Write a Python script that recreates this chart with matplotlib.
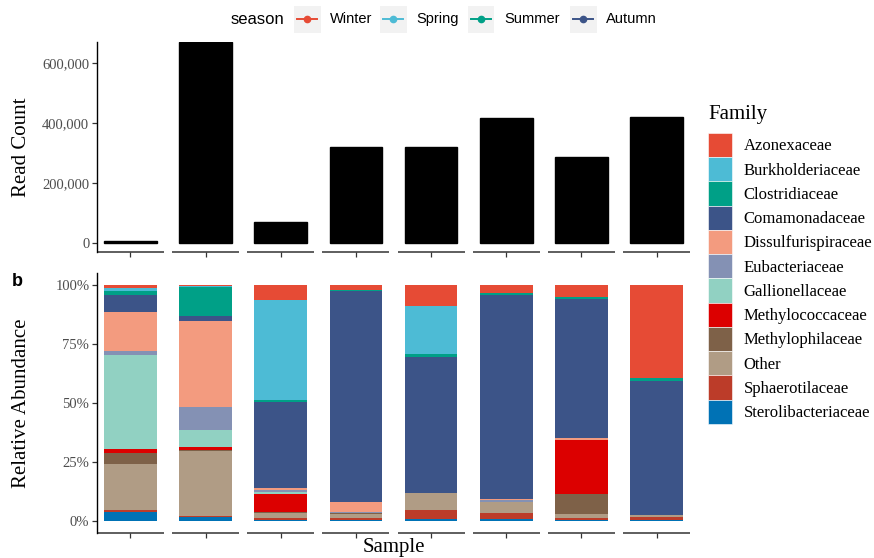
import numpy as np
import matplotlib
matplotlib.use("Agg")
import matplotlib.pyplot as plt
import matplotlib.transforms as mtransforms
from matplotlib.patches import Patch, Rectangle
from matplotlib.lines import Line2D
from matplotlib.ticker import FuncFormatter

plt.rcParams['font.family'] = ['Liberation Serif', 'DejaVu Serif']

# ---- data ----
samples = ["S1", "S2", "S3", "S4", "S5", "S6", "S7", "S8"]
read_count = [8000, 671000, 72000, 321000, 322000, 417000, 287000, 420000]

# stacking order, bottom to top
families = ["Sterolibacteriaceae", "Sphaerotilaceae", "Other", "Methylophilaceae",
            "Methylococcaceae", "Gallionellaceae", "Eubacteriaceae",
            "Dissulfurispiraceae", "Comamonadaceae", "Clostridiaceae",
            "Burkholderiaceae", "Azonexaceae"]
sterolibacteriaceae = [4.0, 1.7, 0.3, 0.6, 0.8, 0.8, 0.7, 0.6]
sphaerotilaceae = [0.7, 0.6, 1.0, 0.6, 3.9, 2.7, 0.7, 1.0]
other = [19.7, 27.5, 2.3, 1.9, 7.4, 4.5, 1.8, 1.2]
methylophilaceae = [4.3, 0.3, 0.1, 0.3, 0.0, 0.0, 8.1, 0.0]
methylococcaceae = [1.7, 1.1, 7.8, 0.1, 0.0, 0.0, 23.0, 0.0]
gallionellaceae = [39.9, 7.4, 1.0, 0.1, 0.0, 0.0, 0.0, 0.0]
eubacteriaceae = [1.5, 9.8, 0.7, 0.1, 0.0, 0.9, 0.0, 0.0]
dissulfurispiraceae = [16.5, 36.1, 0.7, 4.6, 0.0, 0.3, 0.7, 0.0]
comamonadaceae = [7.2, 2.1, 36.6, 89.0, 57.5, 86.6, 59.1, 56.7]
clostridiaceae = [2.0, 12.4, 0.8, 0.6, 1.0, 0.7, 0.8, 1.0]
burkholderiaceae = [1.2, 0.4, 42.4, 0.1, 20.4, 0.0, 0.0, 0.0]
azonexaceae = [1.3, 0.6, 6.3, 2.0, 9.0, 3.5, 5.1, 39.5]
abund = [sterolibacteriaceae, sphaerotilaceae, other, methylophilaceae,
         methylococcaceae, gallionellaceae, eubacteriaceae, dissulfurispiraceae,
         comamonadaceae, clostridiaceae, burkholderiaceae, azonexaceae]

fam_colors = ["#0072B5", "#BC3C29", "#B09C85", "#7E6148", "#DC0000", "#91D1C2",
              "#8491B4", "#F39B7F", "#3C5488", "#00A087", "#4DBBD5", "#E64B35"]

seasons = ["Winter", "Spring", "Summer", "Autumn"]
season_colors = ["#E64B35", "#4DBBD5", "#00A087", "#3C5488"]

x = np.arange(len(samples))
W, H = 874, 558
fig = plt.figure(figsize=(W / 100, H / 100), dpi=100)

def px_axes(l, t, r, b):
    return fig.add_axes([l / W, 1 - b / H, (r - l) / W, (b - t) / H])

def style_axis(ax):
    ax.set_xlim(-0.445, 7.445)
    ax.spines[['top', 'right', 'bottom']].set_visible(False)
    ax.spines['left'].set_linewidth(1.0)
    ax.set_xticks(x)
    ax.set_xticklabels([])
    ax.tick_params(axis='x', length=3.5, width=0.9, color='#333333')
    ax.tick_params(axis='y', length=3.5, width=0.9, color='#333333',
                   labelsize=10.5, labelcolor='#4D4D4D', pad=2)
    # per-sample axis line segments
    trans = mtransforms.blended_transform_factory(ax.transData, ax.transAxes)
    for xi in x:
        ax.plot([xi - 0.445, xi + 0.445], [0, 0], color='#333333', lw=1.1,
                transform=trans, clip_on=False, solid_capstyle='butt')

# ---- top: read counts ----
ax1 = px_axes(97, 42, 690, 252)
ax1.bar(x, read_count, width=0.7, color='black', edgecolor='black', lw=1)
ax1.set_ylim(-29000, 671000)
ax1.set_yticks([0, 200000, 400000, 600000])
ax1.yaxis.set_major_formatter(FuncFormatter(lambda v, p: f"{int(v):,}"))
style_axis(ax1)
ax1.set_ylabel("Read Count", fontsize=15)
ax1.yaxis.set_label_coords(-0.112, 0.5)

# ---- bottom: relative abundance ----
ax2 = px_axes(97, 273, 690, 533)
bottom = np.zeros(len(samples))
for vals, col in zip(abund, fam_colors):
    ax2.bar(x, vals, bottom=bottom, width=0.7, color=col, lw=0)
    bottom += np.array(vals)
ax2.set_ylim(-5, 105)
ax2.set_yticks([0, 25, 50, 75, 100])
ax2.yaxis.set_major_formatter(FuncFormatter(lambda v, p: f"{int(v)}%"))
style_axis(ax2)
ax2.set_ylabel("Relative Abundance", fontsize=15)
ax2.yaxis.set_label_coords(-0.112, 0.5)
ax2.set_xlabel("Sample", fontsize=15)
ax2.xaxis.set_label_coords(0.5, -0.02)

fig.text(12 / W, 1 - 282 / H, "b", fontsize=13, fontweight='bold',
         family=['Liberation Sans', 'DejaVu Sans'], va='center', ha='left')

# ---- family legend ----
fig.text(708 / W, 1 - 114 / H, "Family", fontsize=15, va='center', ha='left')
handles = [Patch(facecolor=c, edgecolor='white', lw=0.4) for c in fam_colors[::-1]]
leg = fig.legend(handles, families[::-1], loc='upper left',
                 bbox_to_anchor=(708 / W, 1 - 133 / H), frameon=False,
                 fontsize=12, handlelength=1.45, handleheight=1.86,
                 labelspacing=0, handletextpad=0.7, borderaxespad=0,
                 borderpad=0)

# ---- season legend ----
fig.text(231 / W, 1 - 19 / H, "season", fontsize=12, va='center', ha='left',
         family=['Liberation Sans', 'DejaVu Sans'])
key_x = [307, 393, 481, 583]
for kx, name, col in zip(key_x, seasons, season_colors):
    fig.add_artist(Rectangle(((kx - 13.5) / W, 1 - 32.5 / H), 27 / W, 27 / H,
                             transform=fig.transFigure, facecolor='#F2F2F2',
                             edgecolor='none'))
    fig.add_artist(Line2D([(kx - 10) / W, (kx + 10) / W], [1 - 19 / H, 1 - 19 / H],
                          transform=fig.transFigure, color=col, lw=1.4))
    fig.add_artist(Line2D([kx / W], [1 - 19 / H], transform=fig.transFigure,
                          marker='o', markersize=4.5, color=col, lw=0))
    fig.text((kx + 23) / W, 1 - 19 / H, name, fontsize=10.5, va='center',
             ha='left', family=['Liberation Sans', 'DejaVu Sans'])

fig.savefig("out.png", dpi=100)
